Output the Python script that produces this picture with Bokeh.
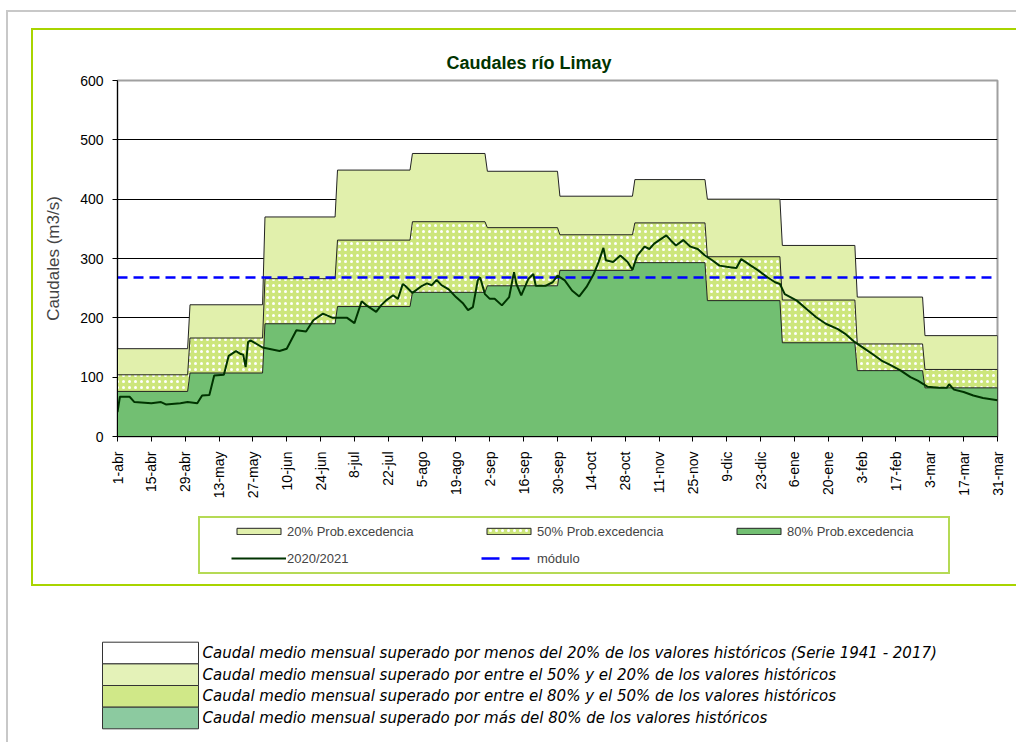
import math
from bokeh.plotting import figure
from bokeh.layouts import column
from bokeh.models import (Range1d, FixedTicker, Legend, LegendItem, InlineStyleSheet)
from bokeh.core.properties import value
from bokeh.embed import file_html
from bokeh.resources import INLINE

# ---------------- data ----------------
month_lengths = [30, 31, 30, 31, 31, 30, 31, 30, 31, 31, 28, 31]   # abr .. mar
prob20 = [148, 222, 370, 449, 477, 447, 405, 433, 400, 322, 235, 170]
prob50 = [104, 166, 266, 331, 362, 352, 340, 360, 303, 230, 156, 113]
prob80 = [76, 107, 190, 219, 243, 254, 280, 293, 229, 158, 111, 82]
modulo = 268

obs_days = [0, 1, 5, 7, 14, 18, 20, 26, 29, 33, 35, 38, 40, 44, 46, 49, 51, 52, 53, 54,
            55, 60, 67, 70, 74, 78, 81, 85, 89, 95, 98, 101, 103, 107, 109, 111, 114, 116,
            118, 119, 122, 126, 128, 130, 132, 134, 137, 140, 143, 145, 147, 149, 150, 152,
            154, 156, 159, 162, 164, 165, 167, 170, 172, 173, 177, 180, 182, 185, 188, 191,
            194, 197, 199, 201, 202, 205, 208, 211, 213, 215, 218, 220, 222, 227, 229, 231,
            234, 237, 240, 243, 246, 249, 252, 254, 256, 258, 262, 265, 269, 272, 274, 276,
            281, 285, 289, 293, 298, 301, 305, 309, 313, 316, 320, 324, 328, 331, 335, 340,
            343, 344, 346, 350, 354, 358, 364]
obs_vals = [41, 67, 67, 58, 56, 58, 54, 56, 58, 56, 69, 70, 103, 104, 136, 144, 139, 138, 117, 159,
            162, 150, 144, 148, 179, 177, 196, 207, 200, 200, 191, 228, 221, 210, 221, 229, 238, 232,
            257, 254, 242, 254, 258, 255, 264, 255, 248, 235, 224, 213, 218, 263, 268, 240,
            232, 232, 221, 235, 277, 257, 238, 266, 274, 254, 254, 260, 271, 263, 246, 236,
            252, 274, 294, 318, 297, 294, 305, 294, 281, 305, 320, 316, 325, 339, 330, 322,
            331, 320, 316, 305, 297, 288, 286, 285, 284, 299, 288, 280, 268, 260, 257, 240,
            229, 215, 201, 190, 181, 173, 159, 148, 137, 128, 120, 111, 100, 94, 84, 82,
            82, 88, 79, 75, 69, 65, 61]

tick_days = [0, 14, 28, 42, 56, 70, 84, 98, 112, 126, 140, 154, 168, 182, 196, 210, 224,
             238, 252, 266, 280, 294, 308, 322, 336, 350, 364]
tick_labels = ["1-abr", "15-abr", "29-abr", "13-may", "27-may", "10-jun", "24-jun", "8-jul",
               "22-jul", "5-ago", "19-ago", "2-sep", "16-sep", "30-sep", "14-oct", "28-oct",
               "11-nov", "25-nov", "9-dic", "23-dic", "6-ene", "20-ene", "3-feb", "17-feb",
               "3-mar", "17-mar", "31-mar"]
y_ticks = [0, 100, 200, 300, 400, 500, 600]

legend_labels = ["20% Prob.excedencia", "50% Prob.excedencia", "80% Prob.excedencia",
                 "2020/2021", "módulo"]
note_labels = [
    "Caudal medio mensual superado por menos del 20% de los valores históricos (Serie 1941 - 2017)",
    "Caudal medio mensual superado por entre el 50% y el 20% de los valores históricos",
    "Caudal medio mensual superado por entre el 80% y el 50% de los valores históricos",
    "Caudal medio mensual superado por más del 80% de los valores históricos",
]

# ---------------- styles ----------------
C20 = "#e1f0ac"
C50 = "#cde67c"
C80 = "#72bf72"
NOTE_COLORS = ["#ffffff", "#e4f2b8", "#d0e888", "#8ccaa0"]
FONT = "Liberation Sans"
AREA20 = dict(fill_color=C20, line_color="#222222", line_width=1)
AREA50 = dict(fill_color=C50, line_color="#222222", line_width=1,
              hatch_pattern="dot", hatch_color="white", hatch_scale=6, hatch_weight=1)
AREA80 = dict(fill_color=C80, line_color="#222222", line_width=1)
MOD_STYLE = dict(line_color="#0000ff", line_width=2.5, line_dash="10 6")
MOD_KEY_STYLE = dict(line_color="#0000ff", line_width=2.5, line_dash="18 12")
OBS_STYLE = dict(line_color="#003300", line_width=2)


def step_patch(vals):
    xs, ys = [], []
    start = 0
    for n, v in zip(month_lengths, vals):
        xs += [start, start + n - 1]
        ys += [v, v]
        start += n
    return xs + [xs[-1], xs[0]], ys + [0, 0]


W, HT = 1016, 742
H1 = 505
H2 = HT - H1
FL, FR, FT, FB = 117, 997, 80, 436   # plot frame in page pixels

p = figure(width=W, height=H1, x_range=Range1d(0, 364), y_range=Range1d(0, 600),
           output_backend="svg", toolbar_location=None,
           min_border_left=FL, min_border_right=W - FR,
           min_border_top=FT, min_border_bottom=H1 - FB)
p.background_fill_color = "white"
p.border_fill_color = None
p.outline_line_color = "#a0a0a0"
p.outline_line_width = 2

# title
p.title.text = "Caudales río Limay"
p.title.text_font = FONT
p.title.text_font_size = "18px"
p.title.text_font_style = "bold"
p.title.text_color = "#003300"
p.title.align = "left"
p.title.offset = 329
p.title.standoff = 15

# axes
xa = p.xaxis[0]
xa.ticker = FixedTicker(ticks=tick_days)
xa.major_label_overrides = {d: s for d, s in zip(tick_days, tick_labels)}
xa.major_label_orientation = math.pi / 2
ya = p.yaxis[0]
ya.ticker = FixedTicker(ticks=y_ticks)
ya.axis_label = "Caudales (m3/s)"
ya.axis_label_text_font = FONT
ya.axis_label_text_font_size = "17px"
ya.axis_label_text_font_style = "normal"
ya.axis_label_standoff = 14
for ax in (xa, ya):
    ax.axis_line_color = "black"
    ax.axis_line_width = 1
    ax.major_tick_line_color = "black"
    ax.major_tick_out = 5
    ax.major_tick_in = 0
    ax.minor_tick_line_color = None
    ax.major_label_text_font = FONT
    ax.major_label_text_font_size = "14px"
    ax.major_label_text_color = "black"
xa.major_label_standoff = 10
ya.major_label_standoff = 9

p.xgrid.grid_line_color = None
p.ygrid.ticker = FixedTicker(ticks=y_ticks[1:-1])
p.ygrid.grid_line_color = "black"
p.ygrid.grid_line_width = 1

# areas and lines
x20, y20 = step_patch(prob20)
x50, y50 = step_patch(prob50)
x80, y80 = step_patch(prob80)
p.patch(x20, y20, **AREA20)
p.patch(x50, y50, **AREA50)
p.patch(x80, y80, **AREA80)
p.line([obs_days[0], obs_days[-1]], [modulo, modulo], **MOD_STYLE)
p.line(obs_days, obs_vals, **OBS_STYLE)

# ---------------- lower figure: legend + notes ----------------
q = figure(width=W, height=H2, x_range=Range1d(0, W), y_range=Range1d(HT, H1),
           output_backend="svg", toolbar_location=None,
           x_axis_location=None, y_axis_location=None,
           min_border_left=0, min_border_right=0, min_border_top=0, min_border_bottom=0)
if "frame_align" in q.properties():
    q.frame_align = False
    p.frame_align = False
q.xgrid.grid_line_color = None
q.ygrid.grid_line_color = None
q.outline_line_color = None
q.background_fill_color = None
q.border_fill_color = None

# legend key renderers (their data lie outside the visible range, only the keys show)
off_x, off_y = [-50, -40, -40], [HT + 50, HT + 50, HT + 60]
k20 = q.patch(off_x, off_y, **AREA20)
k50 = q.patch(off_x, off_y, **AREA50)
k80 = q.patch(off_x, off_y, **AREA80)
kobs = q.line(off_x, off_y, **OBS_STYLE)
kmod = q.line(off_x, off_y, **MOD_KEY_STYLE)
legend = Legend(items=[LegendItem(label=legend_labels[0], renderers=[k20]),
                       LegendItem(label=legend_labels[1], renderers=[k50]),
                       LegendItem(label=legend_labels[2], renderers=[k80]),
                       LegendItem(label=legend_labels[3], renderers=[kobs]),
                       LegendItem(label=legend_labels[4], renderers=[kmod])],
                orientation="horizontal", ncols=3,
                location=(231, HT - 568), glyph_width=55, glyph_height=8,
                label_standoff=1, label_width=187, label_height=20, spacing=7,
                padding=0, margin=0, border_line_alpha=0, background_fill_alpha=0,
                label_text_font=FONT, label_text_font_size="13px")
q.add_layout(legend)

row_edges = [641.7, 663.4, 685.0, 706.7, 728.3]
q.quad(left=[102] * 4, right=[198] * 4, top=row_edges[:-1], bottom=row_edges[1:],
       fill_color=NOTE_COLORS, line_color="#333333", line_width=1)
q.text(x=[202] * 4, y=[(a + b) / 2 for a, b in zip(row_edges[:-1], row_edges[1:])],
       text=note_labels, text_baseline="middle", text_align="left",
       text_font=value("DejaVu Sans"), text_font_style="italic",
       text_font_size="15px", text_color="black")

# frames drawn as an overlay (lines only)
rects = [
    ("#c8c8c8", 6, 10, 1010, 2), ("#c8c8c8", 6, 10, 2, 732),
    ("#a8d400", 31, 28, 985, 2), ("#a8d400", 31, 28, 2, 558), ("#a8d400", 31, 584, 985, 2),
    ("#b5da55", 198, 516, 752, 2), ("#b5da55", 198, 572, 752, 2),
    ("#b5da55", 198, 516, 2, 58), ("#b5da55", 948, 516, 2, 58),
]
imgs = ", ".join(f"linear-gradient({c},{c})" for c, *_ in rects)
sizes = ", ".join(f"{w}px {h}px" for _, _, _, w, h in rects)
poss = ", ".join(f"{x}px {y}px" for _, x, y, _, _ in rects)
css = f""":host {{ position: relative; }}
:host::after {{
  content: ""; position: absolute; left: 0; top: 0; width: {W}px; height: {HT}px;
  pointer-events: none; z-index: 50;
  background-image: {imgs};
  background-size: {sizes};
  background-position: {poss};
  background-repeat: no-repeat;
}}"""

layout = column(p, q, spacing=0, stylesheets=[InlineStyleSheet(css=css)])

open("out.html", "w").write(file_html(layout, INLINE))
